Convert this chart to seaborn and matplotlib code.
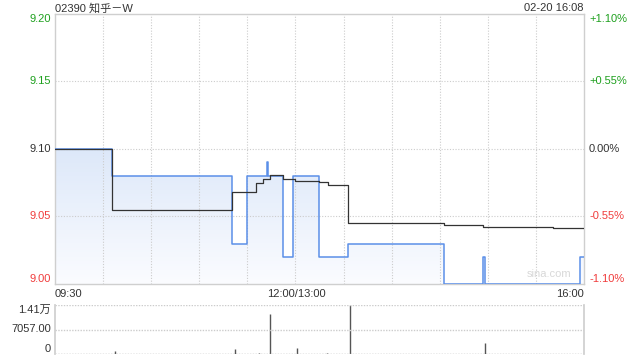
import numpy as np
import pandas as pd
import matplotlib
matplotlib.use("Agg")
import matplotlib.pyplot as plt
import seaborn as sns
from matplotlib.patches import PathPatch
from matplotlib.path import Path
from matplotlib.colors import LinearSegmentedColormap

# ---- data (minutes since 09:30 on a 330-minute trading axis) ----
price_t = [0, 35.7, 110.6, 119.6, 132.0, 132.9, 142.0, 148.7, 164.9, 182.8, 242.7, 266.8, 268.5, 327.5, 330]
price_v = [9.10, 9.08, 9.03, 9.08, 9.09, 9.08, 9.02, 9.08, 9.02, 9.03, 9.00, 9.02, 9.00, 9.02, 9.02]

avg_t = [0, 35.7, 110.6, 125.4, 129.9, 134.1, 142.4, 149.7, 164.9, 170.5, 182.8, 242.7, 266.8, 310.8, 330]
avg_v = [9.10, 9.055, 9.068, 9.075, 9.0776, 9.0807, 9.078, 9.0763, 9.0758, 9.0736, 9.0455, 9.044, 9.0422, 9.0412, 9.0412]

vol_t = [37.6, 112.3, 127.0, 134.3, 150.8, 169.7, 184.2, 268.4]
vol_v = [860, 1350, 300, 11520, 1800, 300, 14114, 3250]

prev_close = 9.10
price_ticks = [9.00, 9.05, 9.10, 9.15, 9.20]
price_labels = ["9.00", "9.05", "9.10", "9.15", "9.20"]
pct_labels = ["-1.10%", "-0.55%", "0.00%", "+0.55%", "+1.10%"]
vol_ticks = [0, 7057, 14114]
vol_labels = ["0", "7057.00", "1.41万"]
x_labels = ["09:30", "12:00/13:00", "16:00"]
title = "02390 知乎－W"
stamp = "02-20 16:08"

sns.set_theme(style="white")
plt.rcParams["font.family"] = ["Liberation Sans", "Noto Sans CJK SC", "DejaVu Sans"]

GREEN = "#1ea01e"
RED = "#f03c3c"
DARK = "#333333"
GRID = "#cccccc"
BORDER = "#cfcfcf"
BLUE = "#5b8fe8"

fig = plt.figure(figsize=(6.4, 3.6), dpi=100)
ax = fig.add_axes([55/640, 1-284/360, (584-55)/640, (284-14)/360])
axv = fig.add_axes([55/640, 1-354/360, (584-55)/640, (354-305)/360])

df_p = pd.DataFrame({"t": price_t, "p": price_v})
df_a = pd.DataFrame({"t": avg_t, "p": avg_v})

# gradient fill under price
verts = []
for i in range(len(price_t) - 1):
    verts.append((price_t[i], price_v[i]))
    verts.append((price_t[i+1], price_v[i]))
verts.append((price_t[-1], price_v[-1]))
verts = [(price_t[0], 9.0)] + verts + [(price_t[-1], 9.0), (price_t[0], 9.0)]
path = Path(verts)
patch = PathPatch(path, transform=ax.transData, facecolor="none", edgecolor="none")
ax.add_patch(patch)
cmap = LinearSegmentedColormap.from_list("g", ["#fbfcff", "#dde8f9"])
grad = np.linspace(0, 1, 256).reshape(-1, 1)
img = ax.imshow(grad, extent=[0, 330, 9.0, 9.10], origin="lower", aspect="auto",
                cmap=cmap, zorder=1, interpolation="bicubic")
img.set_clip_path(patch)

sns.lineplot(data=df_p, x="t", y="p", ax=ax, color=BLUE, lw=1.1, drawstyle="steps-post",
             estimator=None, sort=False, zorder=3)
sns.lineplot(data=df_a, x="t", y="p", ax=ax, color=DARK, lw=0.9, drawstyle="steps-post",
             estimator=None, sort=False, zorder=4)

ax.set_xlim(0, 330)
ax.set_ylim(9.00, 9.20)
ax.set_xlabel("")
ax.set_ylabel("")
ax.set_xticks([])
ax.set_yticks([])
for s in ax.spines.values():
    s.set_color(BORDER)
    s.set_linewidth(1.0)

for x in range(30, 330, 30):
    ax.axvline(x, color=GRID, lw=0.8, ls=(0, (1, 1.5)), zorder=2)
for y in [9.05, 9.10, 9.15]:
    ax.axhline(y, color=GRID, lw=0.8, ls=(0, (1, 1.5)), zorder=2)

fs = 8
n = len(price_ticks)
for i, (y, lab, pl) in enumerate(zip(price_ticks, price_labels, pct_labels)):
    c = GREEN if y > prev_close + 1e-9 else (RED if y < prev_close - 1e-9 else DARK)
    va = "bottom" if i == 0 else ("top" if i == n - 1 else "center")
    ax.text(-4/529*330, y, lab, ha="right", va=va, color=c, fontsize=fs)
    ax.text(330 + 5/529*330, y, pl, ha="left", va=va, color=c, fontsize=fs)

fig.text(55/640, 1-8/360, title, ha="left", va="center", fontsize=fs, color=DARK)
fig.text(584/640, 1-8/360, stamp, ha="right", va="center", fontsize=fs, color=DARK)
fig.text(55/640, 1-294/360, x_labels[0], ha="left", va="center", fontsize=fs, color=DARK)
fig.text(296/640, 1-294/360, x_labels[1], ha="center", va="center", fontsize=fs, color=DARK)
fig.text(584/640, 1-294/360, x_labels[2], ha="right", va="center", fontsize=fs, color=DARK)
ax.text(322, 9.004, "sina.com", ha="right", va="bottom", fontsize=8, color="#d8d8d8", zorder=2)

# volume panel
axv.vlines(vol_t, 0, vol_v, color="#555555", lw=1.0)
axv.set_xlim(0, 330)
axv.set_ylim(0, 14114)
axv.set_xticks([])
axv.set_yticks([])
for k in ["left", "right"]:
    axv.spines[k].set_color(BORDER)
axv.spines["top"].set_visible(False)
axv.spines["bottom"].set_visible(False)
axv.axhline(14114, color=GRID, lw=1.0, ls=(0, (1, 1)))
axv.axhline(7057, color=GRID, lw=1.0, ls=(0, (1, 1)))
axv.axhline(0, color="#999999", lw=1.0, ls=(0, (1, 1)))
nv = len(vol_ticks)
for i, (y, lab) in enumerate(zip(vol_ticks, vol_labels)):
    va = "bottom" if i == 0 else ("top" if i == nv - 1 else "center")
    axv.text(-4/529*330, y, lab, ha="right", va=va, fontsize=fs, color=DARK)

fig.savefig("out.png", dpi=100)
